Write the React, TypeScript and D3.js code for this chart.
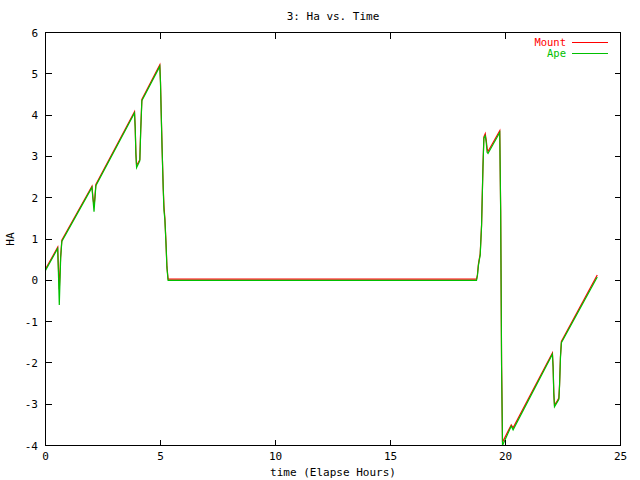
import React from "react";
import * as d3 from "d3";

// elapsed hours (shared sample times for both series)
const hours = [
  0, 0.53, 0.55, 0.6, 0.66, 0.71, 2.02, 2.06, 2.11, 2.15, 2.19, 3.87, 3.9, 3.93, 3.96, 4.1, 4.14, 4.19,
  4.97, 5.0, 5.03, 5.07, 5.12, 5.15, 5.19, 5.24, 5.28, 5.33, 18.74, 18.78, 18.82, 18.86, 18.9, 18.96,
  19.02, 19.06, 19.12, 19.16, 19.2, 19.24, 19.75, 19.79, 19.83, 19.87, 20.25, 20.33, 22.04, 22.07, 22.1,
  22.13, 22.25, 22.32, 22.35, 22.39, 22.43, 23.99,
];

const mountHa = [
  0.27, 0.8, 0.45, -0.22, 0.58, 0.97, 2.28, 2.02, 1.8, 2.02, 2.32, 4.08, 3.72, 3.08, 2.78, 2.92, 3.65, 4.38,
  5.22, 4.8, 4.08, 3.2, 2.22, 1.8, 1.5, 0.9, 0.33, 0.03, 0.03, 0.14, 0.38, 0.52, 0.64, 1.35,
  2.76, 3.47, 3.55, 3.4, 3.2, 3.12, 3.62, 1.71, -2.06, -3.92, -3.5, -3.57, -1.76, -2.08, -2.72,
  -3.02, -2.92, -2.85, -2.53, -1.84, -1.48, 0.13,
];

const apeHa = [
  0.24, 0.77, 0.42, -0.6, 0.55, 0.94, 2.25, 1.98, 1.66, 1.98, 2.29, 4.05, 3.69, 3.05, 2.73, 2.89, 3.62, 4.35,
  5.18, 4.77, 4.05, 3.17, 2.19, 1.7, 1.47, 0.87, 0.3, 0.0, 0.0, 0.11, 0.35, 0.49, 0.61, 1.32,
  2.73, 3.44, 3.5, 3.35, 3.1, 3.07, 3.58, 1.68, -2.09, -4.0, -3.53, -3.62, -1.79, -2.11, -2.75,
  -3.06, -2.95, -2.88, -2.56, -1.87, -1.51, 0.08,
];

const xTicks = [0, 5, 10, 15, 20, 25];
const yTicks = [-4, -3, -2, -1, 0, 1, 2, 3, 4, 5, 6];

const series = [
  { name: "Mount", values: mountHa, color: "#ff0000" },
  { name: "Ape", values: apeHa, color: "#00c000" },
];

const W = 640;
const H = 480;
const left = 45.5;
const right = 620.5;
const top = 32.5;
const bottom = 445.5;
const tick = 6;
const font = "'DejaVu Sans Mono', monospace";

export default function App() {
  const x = d3.scaleLinear().domain([0, 25]).range([left, right]);
  const y = d3.scaleLinear().domain([-4, 6]).range([bottom, top]);

  const line = d3
    .line<number>()
    .x((_, i) => x(hours[i]))
    .y((d) => y(d));

  return (
    <svg
      width={W}
      height={H}
      style={{ position: "absolute", left: 0, top: 0, background: "#fff" }}
      fontFamily={font}
      fontSize={11}
    >
      <rect width={W} height={H} fill="#fff" />

      {/* data */}
      {series.map((s) => (
        <path key={s.name} d={line(s.values) || ""} fill="none" stroke={s.color} strokeWidth={1.2} />
      ))}

      {/* frame + ticks */}
      <g stroke="#000" strokeWidth={1} shapeRendering="crispEdges" fill="none">
        <rect x={left} y={top} width={right - left} height={bottom - top} />
        {xTicks.map((t) => (
          <g key={"x" + t}>
            <line x1={x(t)} x2={x(t)} y1={bottom} y2={bottom - tick} />
            <line x1={x(t)} x2={x(t)} y1={top} y2={top + tick} />
          </g>
        ))}
        {yTicks.map((t) => (
          <g key={"y" + t}>
            <line x1={left} x2={left + tick} y1={y(t)} y2={y(t)} />
            <line x1={right} x2={right - tick} y1={y(t)} y2={y(t)} />
          </g>
        ))}
      </g>

      {/* tick labels */}
      {xTicks.map((t) => (
        <text key={"xl" + t} x={x(t)} y={460} textAnchor="middle">
          {t}
        </text>
      ))}
      {yTicks.map((t) => (
        <text key={"yl" + t} x={38} y={y(t) + 4} textAnchor="end">
          {t}
        </text>
      ))}

      {/* titles */}
      <text x={(left + right) / 2} y={20} textAnchor="middle">
        3: Ha vs. Time
      </text>
      <text x={(left + right) / 2} y={476} textAnchor="middle">
        time (Elapse Hours)
      </text>
      <text transform={`translate(14,${(top + bottom) / 2}) rotate(-90)`} textAnchor="middle">
        HA
      </text>

      {/* legend */}
      {series.map((s, i) => (
        <g key={"lg" + s.name}>
          <text x={566} y={45.5 + i * 11} textAnchor="end" fill={s.color} fontSize={10.5}>
            {s.name}
          </text>
          <line x1={572} x2={608} y1={42.5 + i * 11} y2={42.5 + i * 11} stroke={s.color} strokeWidth={1} shapeRendering="crispEdges" />
        </g>
      ))}
    </svg>
  );
}
